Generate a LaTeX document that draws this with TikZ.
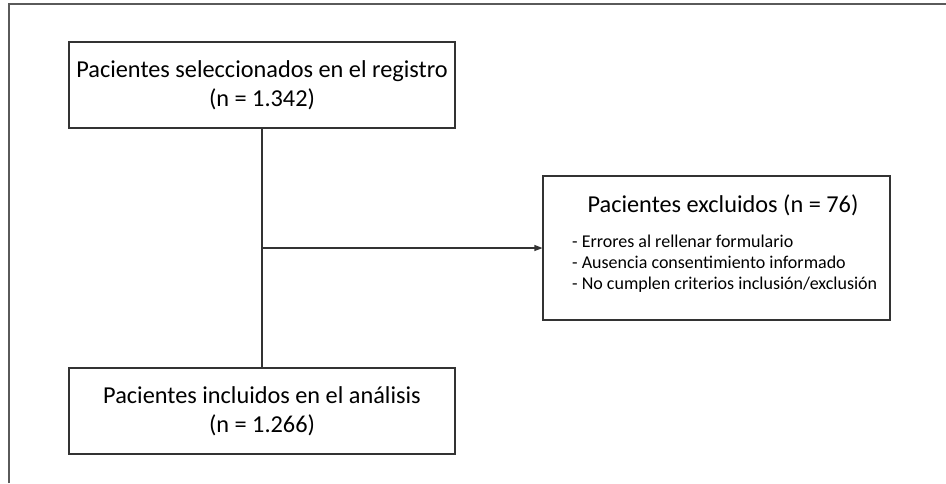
\documentclass[tikz,border=0pt]{standalone}
\usepackage{fontspec}
\setmainfont{Carlito}
\usetikzlibrary{arrows.meta}
\definecolor{linegray}{HTML}{333333}
\definecolor{framegray}{HTML}{5A5A5A}
\begin{document}
\begin{tikzpicture}[x=1pt,y=-1pt,
  bigbox/.style={draw=linegray, line width=1.1pt, inner sep=0pt, align=center,
                 minimum width=386pt, minimum height=86pt,
                 font=\fontsize{24.3}{29}\selectfont},
  emptybox/.style={draw=linegray, line width=1.1pt, inner sep=0pt,
                 minimum width=347pt, minimum height=144pt},
  titletext/.style={inner sep=0pt, font=\fontsize{24.3}{29}\selectfont},
  listtext/.style={inner sep=0pt, align=left, font=\fontsize{18}{21}\selectfont},
  conn/.style={draw=linegray, line width=1.1pt},
  frameline/.style={draw=framegray, line width=1.6pt}]
\useasboundingbox (0,0) rectangle (946,483);
% outer frame (top and left edges only)
\coordinate (fbl) at (9,483);
\coordinate (ftl) at (9,4);
\coordinate (ftr) at (946,4);
\draw[frameline] (fbl) -- (ftl) -- (ftr);
% boxes
\node[bigbox] (sel) at (262,85) {Pacientes seleccionados en el registro\\(n = 1.342)};
\node[bigbox] (inc) at (262,411) {Pacientes incluidos en el análisis\\(n = 1.266)};
\node[emptybox] (exc) at (716.5,248) {};
\node[titletext, anchor=base] (exct) at (723,212) {Pacientes excluidos (n = 76)};
\node[listtext, anchor=north west] (excl) at (572,235) {- Errores al rellenar formulario\\- Ausencia consentimiento informado\\- No cumplen criterios inclusión/exclusión};
% connectors
\coordinate (br) at (sel.south |- exc.west);
\draw[conn] (sel.south) -- (sel.south |- inc.north);
\draw[conn, -{Triangle[length=8pt,width=6pt]}] (br) -- (exc.west);
\end{tikzpicture}
\end{document}
